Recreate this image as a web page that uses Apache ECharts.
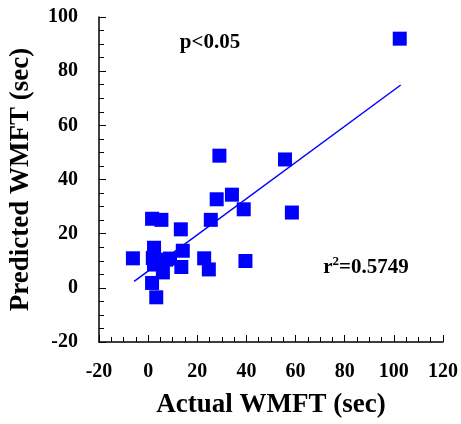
<!DOCTYPE html>
<html><head><meta charset="utf-8">
<script src="https://cdn.jsdelivr.net/npm/echarts@6/dist/echarts.min.js"></script>
<style>html,body{margin:0;padding:0;background:#fff}#c{width:461px;height:424px}</style>
</head><body><div id="c"></div>
<script>
const actual = [102.4, 29.0, 55.7, 34.1, 27.9, 38.9, 58.5, 25.5, 1.6, 5.4, 13.3, 2.4, 14.1, -6.2, 1.9, 7.3, 8.9, 22.8, 39.6, 2.4, 13.5, 24.7, 6.0, 1.6, 3.3, 2.4];
const predicted = [92.0, 48.8, 47.4, 34.4, 32.7, 29.0, 27.8, 25.1, 25.5, 25.1, 21.6, 14.8, 13.7, 10.9, 11.0, 10.4, 10.8, 10.9, 9.9, 8.6, 7.7, 6.8, 5.7, 1.8, -3.5, 12.5];
const fitX = [-5.7, 102.8];
const fitY = [2.4, 74.9];
const xTicks = [-20, 0, 20, 40, 60, 80, 100, 120];
const yTicks = [-20, 0, 20, 40, 60, 80, 100];

const serif = '"Liberation Serif", "DejaVu Serif", serif';
const chart = echarts.init(document.getElementById('c'));
const axisCommon = {
  axisLine: {show: true, onZero: false, lineStyle: {color: '#000', width: 1.5}},
  axisTick: {show: true, inside: true, length: 7, lineStyle: {color: '#000', width: 1}},
  minorTick: {show: true, splitNumber: 4, length: 5, lineStyle: {color: '#000', width: 1}},
  splitLine: {show: false},
  axisLabel: {color: '#000', fontFamily: serif, fontWeight: 'bold', fontSize: 20},
  nameTextStyle: {color: '#000', fontFamily: serif, fontWeight: 'bold', fontSize: 27}
};
chart.setOption({
  animation: false,
  grid: {left: 99, right: 18, top: 17, bottom: 77, containLabel: false},
  xAxis: Object.assign({}, axisCommon, {
    type: 'value', min: xTicks[0], max: xTicks[xTicks.length - 1], interval: 20,
    name: 'Actual WMFT (sec)', nameLocation: 'middle', nameGap: 50,
    axisLabel: Object.assign({}, axisCommon.axisLabel, {margin: 20})
  }),
  yAxis: Object.assign({}, axisCommon, {
    type: 'value', min: yTicks[0], max: yTicks[yTicks.length - 1], interval: 20,
    name: 'Predicted WMFT (sec)', nameLocation: 'middle', nameGap: 64,
    axisLabel: Object.assign({}, axisCommon.axisLabel, {margin: 21})
  }),
  series: [
    {type: 'scatter', symbol: 'rect', symbolSize: 14, itemStyle: {color: '#0000ff', opacity: 1},
     data: actual.map((v, i) => [v, predicted[i]])},
    {type: 'line', symbol: 'none', lineStyle: {color: '#0000ff', width: 1.5},
     data: fitX.map((v, i) => [v, fitY[i]])}
  ],
  graphic: [
    {type: 'text', x: 210, y: 43, style: {text: 'p<0.05', align: 'center', verticalAlign: 'middle',
      font: 'bold 21px ' + serif, fill: '#000'}},
    {type: 'text', x: 366, y: 268, style: {
      text: '{a|r}{s|2}{a|=0.5749}', align: 'center', verticalAlign: 'middle', fill: '#000',
      rich: {a: {fontFamily: serif, fontWeight: 'bold', fontSize: 21, lineHeight: 26, fill: '#000'},
             s: {fontFamily: serif, fontWeight: 'bold', fontSize: 13, lineHeight: 14, verticalAlign: 'top', fill: '#000'}}}}
  ]
});
</script></body></html>
